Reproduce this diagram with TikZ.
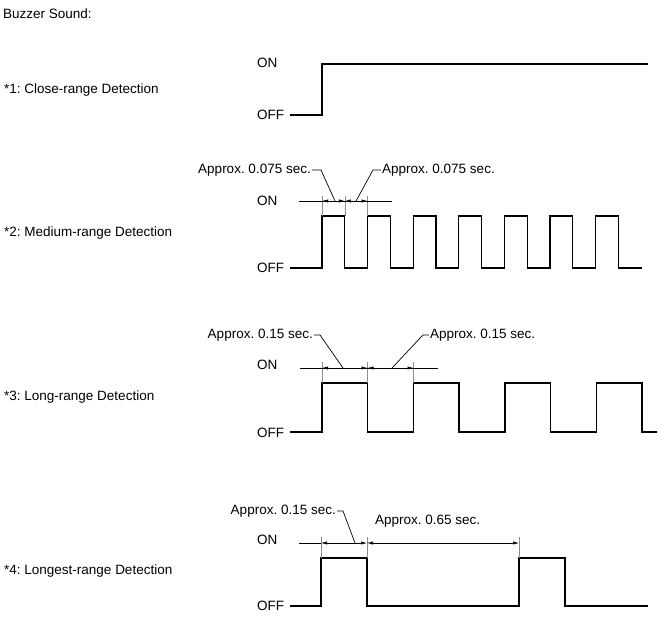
\documentclass[tikz,border=0pt]{standalone}
\usepackage{fontspec}
\setmainfont{Liberation Sans}
\usepackage{tikz}
\usetikzlibrary{calc}
\usetikzlibrary{arrows.meta}
\frenchspacing
\tikzset{
	>={Latex[length=6pt,width=3.2pt]},
	signal/.style={draw=black, line width=1.1pt, line join=miter},
	dimline/.style={draw=black, line width=0.6pt},
	extline/.style={draw=black!45, line width=0.6pt},
	leader/.style={draw=black, line width=0.7pt},
	caption/.style={anchor=west, inner sep=0pt},
	level/.style={anchor=west, inner sep=0pt},
	approx/.style={inner sep=1pt},
}
\begin{document}
\begin{tikzpicture}
			[x=1pt, y=-1pt, font=\fontsize{13.5}{16}\selectfont]
			\useasboundingbox (0,0) rectangle (658,617);
			\node[caption] (title) at (3,14) {Buzzer Sound:};
			
			% *1 close range
			\node[caption] (cap1) at (4,90) {*1: Close-range Detection};
			\node[level] (on1) at (257,63) {ON};
			\node[level] (off1) at (257,115) {OFF};
			\draw[signal] (290,115) -- (322,115) -- (322,64) -- (648,64);
			
			% *2 medium range
			\node[caption] (cap2) at (4,233) {*2: Medium-range Detection};
			\node[level] (on2) at (257,201) {ON};
			\node[level] (off2) at (257,268) {OFF};
			\draw[signal] (290,268) -- (322,268)
				\foreach \k in {0,...,6} {
					-- ({322+45.6*\k},268) -- ({322+45.6*\k},216)
					-- ({344.8+45.6*\k},216) -- ({344.8+45.6*\k},268)
				} -- (642,268);
			\foreach \x in {322,344.8,367.6}
				\draw[extline] (\x,196) -- (\x,216);
			\draw[dimline] (299,201) -- (392,201);
			\draw[dimline,<->] (322,201) -- (344.8,201);
			\draw[dimline,<->] (344.8,201) -- (367.6,201);
			\coordinate (m2a) at (335,201);
			\coordinate (m2b) at (356,201);
			\node[approx, anchor=east] (t2a) at (312,170) {Approx. 0.075 sec.};
			\node[approx, anchor=west] (t2b) at (381,170) {Approx. 0.075 sec.};
			\draw[leader] (t2a.east) -- ++(9,0) -- (m2a);
			\draw[leader] (t2b.west) -- ++(-8,0) -- (m2b);
			
			% *3 long range
			\node[caption] (cap3) at (4,397) {*3: Long-range Detection};
			\node[level] (on3) at (257,365) {ON};
			\node[level] (off3) at (257,433) {OFF};
			\draw[signal] (290,432) -- (322,432)
				\foreach \k in {0,...,3} {
					-- ({322+91.5*\k},432) -- ({322+91.5*\k},383)
					-- ({367.5+91.5*\k},383) -- ({367.5+91.5*\k},432)
				} -- (657,432);
			\foreach \x in {322,367.5,413.5}
				\draw[extline] (\x,362) -- (\x,383);
			\draw[dimline] (300,368) -- (438,368);
			\draw[dimline,<->] (322,368) -- (367.5,368);
			\draw[dimline,<->] (367.5,368) -- (413.5,368);
			\coordinate (m3a) at (343,368);
			\coordinate (m3b) at (392,368);
			\node[approx, anchor=east] (t3a) at (314,335) {Approx. 0.15 sec.};
			\node[approx, anchor=west] (t3b) at (429,335) {Approx. 0.15 sec.};
			\draw[leader] (t3a.east) -- ++(6,0) -- (m3a);
			\draw[leader] (t3b.west) -- ++(-6,0) -- (m3b);
			
			% *4 longest range
			\node[caption] (cap4) at (4,571) {*4: Longest-range Detection};
			\node[level] (on4) at (257,540) {ON};
			\node[level] (off4) at (257,606) {OFF};
			\draw[signal] (290,606) -- (321,606) -- (321,558) -- (367,558) -- (367,606)
				-- (519,606) -- (519,558) -- (565,558) -- (565,606) -- (648,606);
			\foreach \x in {321,367,519}
				\draw[extline] (\x,537) -- (\x,558);
			\draw[dimline] (299,543) -- (321,543);
			\draw[dimline,<->] (321,543) -- (367,543);
			\draw[dimline,<->] (367,543) -- (519,543);
			\coordinate (m4a) at (355,543);
			\node[approx, anchor=east] (t4a) at (337,511) {Approx. 0.15 sec.};
			\node[approx, anchor=west] (t4b) at (374,521) {Approx. 0.65 sec.};
			\draw[leader] (t4a.east) -- ++(6,0) -- (m4a);
			
\end{tikzpicture}
\end{document}
